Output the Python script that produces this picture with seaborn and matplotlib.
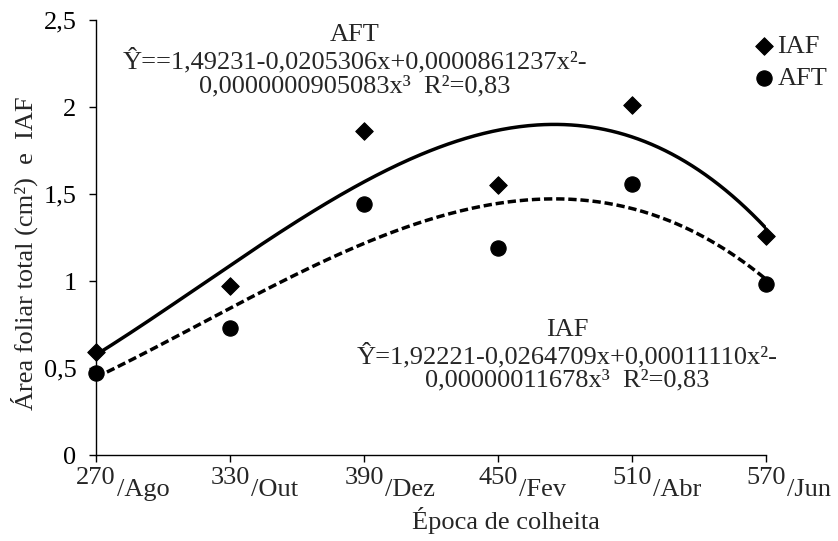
import numpy as np
import pandas as pd
import matplotlib
matplotlib.use("Agg")
import matplotlib.pyplot as plt
import seaborn as sns
from matplotlib.ticker import FuncFormatter

# --------------------------
# Data
# --------------------------
dias = [270, 330, 390, 450, 510, 570]
meses = ["Ago", "Out", "Dez", "Fev", "Abr", "Jun"]
iaf = [0.59, 0.97, 1.86, 1.55, 2.01, 1.26]
aft = [0.47, 0.73, 1.44, 1.19, 1.56, 0.98]

# fitted cubic models printed on the chart (b0, b1, b2, b3)
iaf_coef = [1.92221, -0.0264709, 0.00011110, -0.00000011678]
aft_coef = [1.49231, -0.0205306, 0.0000861237, -0.0000000905083]

aft_txt = "AFT\nŶ==1,49231-0,0205306x+0,0000861237x²-\n0,0000000905083x³  R²=0,83"
iaf_txt = "IAF\nŶ=1,92221-0,0264709x+0,00011110x²-\n0,00000011678x³  R²=0,83"

y_ticks = [0, 0.5, 1, 1.5, 2, 2.5]

# --------------------------
# Style
# --------------------------
sns.set_style("ticks")
plt.rcParams["font.family"] = ["Liberation Serif", "DejaVu Serif"]
fs = 19

df = pd.DataFrame({"dias": dias, "IAF": iaf, "AFT": aft})

xs = np.linspace(270, 570, 300)
curvas = pd.DataFrame({
    "x": xs,
    "IAF": np.polyval(iaf_coef[::-1], xs),
    "AFT": np.polyval(aft_coef[::-1], xs),
})

fig = plt.figure(figsize=(8.38, 5.41), dpi=100)
ax = fig.add_axes([96 / 838, 1 - 455 / 541, 670 / 838, 435 / 541])

# fitted curves
sns.lineplot(data=curvas, x="x", y="IAF", color="black", lw=2.5, ax=ax)
sns.lineplot(data=curvas, x="x", y="AFT", color="black", lw=2.5,
             linestyle=(0, (2.4, 1.1)), ax=ax)

# observed points
sns.scatterplot(data=df, x="dias", y="IAF", marker="D", s=80, color="black",
                edgecolor="black", label="IAF", ax=ax, clip_on=False, zorder=5)
sns.scatterplot(data=df, x="dias", y="AFT", marker="o", s=120, color="black",
                edgecolor="black", label="AFT", ax=ax, clip_on=False, zorder=5)

ax.set_xlim(270, 570)
ax.set_ylim(0, 2.5)
ax.set_xticks(dias)
ax.set_xticklabels([])
ax.set_yticks(y_ticks)
ax.yaxis.set_major_formatter(FuncFormatter(lambda v, p: ("%g" % v).replace(".", ",")))
ax.tick_params(axis="both", direction="out", length=5, width=1, color="black",
               labelsize=fs, labelcolor="black")
ax.tick_params(axis="y", pad=9)
sns.despine(ax=ax)
for s in ["left", "bottom"]:
    ax.spines[s].set_color("black")
    ax.spines[s].set_linewidth(1)

# x tick labels: "270" + "/Ago"
for d, m in zip(dias, meses):
    num = ax.annotate(str(d), xy=(d, 0), xycoords=("data", "axes fraction"),
                      xytext=(0, -16.5), textcoords="offset points",
                      ha="center", va="center", fontsize=fs)
    ax.annotate("/" + m, xy=(1, 0.5), xycoords=num,
                xytext=(1, -9), textcoords="offset points",
                ha="left", va="center", fontsize=fs)

ax.set_xlabel("Época de colheita", fontsize=fs)
ax.xaxis.set_label_coords(0.612, -0.12)
ax.set_ylabel("Área foliar total (cm²)  e  IAF", fontsize=fs)
ax.yaxis.set_label_coords(-0.086, 0.464)

# equations
ax.text(386, 2.265, aft_txt, ha="center", va="center", fontsize=fs,
        linespacing=1.1, multialignment="center")
ax.text(481, 0.573, iaf_txt, ha="center", va="center", fontsize=fs,
        linespacing=1.1, multialignment="center")

ax.legend(loc="upper right", bbox_to_anchor=(1.0, 0.955),
          bbox_transform=fig.transFigure, frameon=False, fontsize=fs,
          handlelength=0.6, handletextpad=0.2, labelspacing=0.3,
          borderaxespad=0)

plt.savefig("out.png", dpi=100)
